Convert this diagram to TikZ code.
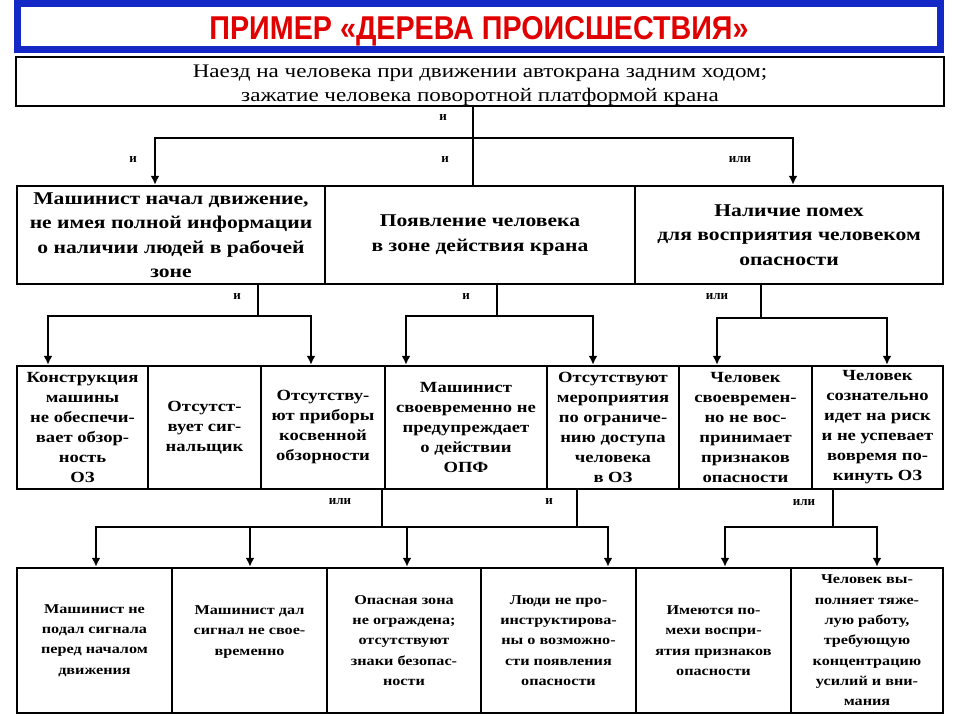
\documentclass[tikz,border=0pt]{standalone}
\usepackage{fontspec}
\setmainfont{Liberation Serif}
\newfontfamily\titlefont[FakeStretch=0.87]{Liberation Sans}
\newfontfamily\boxfont[FakeStretch=1.2]{Liberation Serif}
\usetikzlibrary{arrows.meta}
\definecolor{titleblue}{RGB}{20,40,200}
\definecolor{titlered}{RGB}{225,0,0}
\tikzset{
  box/.style={draw, line width=2.5pt, align=center, inner sep=0pt},
  wire/.style={line width=1.9pt},
  gate/.style={font=\fontsize{13}{13}\selectfont\bfseries, inner sep=0pt},
  big/.style={font=\boxfont\fontsize{18}{24.5}\selectfont\bfseries},
  mid/.style={font=\boxfont\fontsize{15.5}{20}\selectfont\bfseries},
  small/.style={font=\boxfont\fontsize{13.5}{20.3}\selectfont\bfseries}
}
\begin{document}
\begin{tikzpicture}[x=1pt, y=-1pt, >={Latex[length=9pt,width=9pt]}]
  \useasboundingbox (0,0) rectangle (960,720);
  % title
  \node [draw=titleblue, line width=7pt, fill=white, minimum width=923, minimum height=46, inner sep=0pt] (title) at (479,26.5)
    {\raisebox{-13pt}[0pt][0pt]{\titlefont\bfseries\fontsize{33}{33}\selectfont\color{titlered}ПРИМЕР «ДЕРЕВА ПРОИСШЕСТВИЯ»}};
  % top event
  \node [box, minimum width=928, minimum height=49, font=\boxfont\fontsize{19.2}{24}\selectfont] (top) at (480,81.5)
    {\raisebox{-8pt}[0pt][0pt]{\begin{tabular}{@{}c@{}}Наезд на человека при движении автокрана задним ходом;\\зажатие человека поворотной платформой крана\end{tabular}}};
  % second row
  \node [box, big, minimum width=308, minimum height=98] (r2a) at (171,235)
    {Машинист начал движение,\\не имея полной информации\\о наличии людей в рабочей\\зоне};
  \node [box, big, minimum width=310, minimum height=98] (r2b) at (480,235)
    {Появление человека\\в зоне действия крана};
  \node [box, big, minimum width=308, minimum height=98] (r2c) at (789,235)
    {Наличие помех\\для восприятия человеком\\опасности};
  % third row
  \node [box, mid, minimum width=131, minimum height=123] (r3a) at (82.5,427.5)
    {Конструкция\\машины\\не обеспечи-\\вает обзор-\\ность\\ОЗ};
  \node [box, mid, minimum width=113, minimum height=123] (r3b) at (204.5,427.5)
    {Отсутст-\\вует сиг-\\нальщик};
  \node [box, mid, minimum width=124, minimum height=123] (r3c) at (323,427.5)
    {Отсутству-\\ют приборы\\косвенной\\обзорности};
  \node [box, mid, minimum width=162, minimum height=123] (r3d) at (466,427.5)
    {Машинист\\своевременно не\\предупреждает\\о действии\\ОПФ};
  \node [box, mid, minimum width=132, minimum height=123] (r3e) at (613,427.5)
    {Отсутствуют\\мероприятия\\по ограниче-\\нию доступа\\человека\\в ОЗ};
  \node [box, mid, minimum width=133, minimum height=123] (r3f) at (745.5,427.5)
    {Человек\\своевремен-\\но не вос-\\принимает\\признаков\\опасности};
  \node [box, mid, minimum width=131, minimum height=123] (r3g) at (877.5,427.5)
    {Человек\\сознательно\\идет на риск\\и не успевает\\вовремя по-\\кинуть ОЗ};
  % fourth row
  \node [box, small, minimum width=155, minimum height=145] (r4a) at (94.5,640.5)
    {Машинист не\\подал сигнала\\перед началом\\движения};
  \node [box, small, minimum width=155, minimum height=145] (r4b) at (249.5,640.5)
    {Машинист дал\\сигнал не свое-\\временно\\\phantom{x}};
  \node [box, small, minimum width=154, minimum height=145] (r4c) at (404,640.5)
    {Опасная зона\\не ограждена;\\отсутствуют\\знаки безопас-\\ности};
  \node [box, small, minimum width=155, minimum height=145] (r4d) at (558.5,640.5)
    {Люди не про-\\инструктирова-\\ны о возможно-\\сти появления\\опасности};
  \node [box, small, minimum width=155, minimum height=145] (r4e) at (713.5,640.5)
    {Имеются по-\\мехи воспри-\\ятия признаков\\опасности};
  \node [box, small, minimum width=152, minimum height=145] (r4f) at (867,640.5)
    {Человек вы-\\полняет тяже-\\лую работу,\\требующую\\концентрацию\\усилий и вни-\\мания};
  % junctions
  \coordinate (j0) at (473,138);
  \coordinate (j1) at (258,316);
  \coordinate (j2) at (497,316);
  \coordinate (j3) at (761,318);
  \coordinate (j4) at (382,527);
  \coordinate (j5) at (577,527);
  \coordinate (j6) at (833,527);
  % top -> second row
  \draw [wire] (top.south -| j0) -- (j0);
  \draw [wire, ->] (j0) -| ([xshift=-16]r2a.north);
  \draw [wire] (j0) -- (j0 |- r2b.north);
  \draw [wire, ->] (j0) -| ([xshift=4]r2c.north);
  % second -> third row
  \draw [wire] (r2a.south -| j1) -- (j1);
  \draw [wire, ->] (j1) -| ([xshift=-34.5]r3a.north);
  \draw [wire, ->] (j1) -| ([xshift=-12]r3c.north);
  \draw [wire] (r2b.south -| j2) -- (j2);
  \draw [wire, ->] (j2) -| ([xshift=-60]r3d.north);
  \draw [wire, ->] (j2) -| ([xshift=-20]r3e.north);
  \draw [wire] (r2c.south -| j3) -- (j3);
  \draw [wire, ->] (j3) -| ([xshift=-28.5]r3f.north);
  \draw [wire, ->] (j3) -| ([xshift=9.5]r3g.north);
  % third -> fourth row
  \draw [wire] (r3c.south -| j4) -- (j4);
  \draw [wire, ->] (j4) -| ([xshift=1.5]r4a.north);
  \draw [wire, ->] (j4) -| ([xshift=0.5]r4b.north);
  \draw [wire, ->] (j4) -| ([xshift=3]r4c.north);
  \draw [wire] (j4) -- (j5);
  \draw [wire] (r3e.south -| j5) -- (j5);
  \draw [wire, ->] (j5) -| ([xshift=49.5]r4d.north);
  \draw [wire] (r3g.south -| j6) -- (j6);
  \draw [wire, ->] (j6) -| ([xshift=11.5]r4e.north);
  \draw [wire, ->] (j6) -| ([xshift=10]r4f.north);
  % gate labels
  \node [gate] (g0) at (443,118) {и};
  \node [gate] (g1) at (133,160) {и};
  \node [gate] (g2) at (445,160) {и};
  \node [gate] (g3) at (740,160) {или};
  \node [gate] (g4) at (237,297) {и};
  \node [gate] (g5) at (466,297) {и};
  \node [gate] (g6) at (717,297) {или};
  \node [gate] (g7) at (340,502) {или};
  \node [gate] (g8) at (549,502) {и};
  \node [gate] (g9) at (804,503) {или};
\end{tikzpicture}
\end{document}
